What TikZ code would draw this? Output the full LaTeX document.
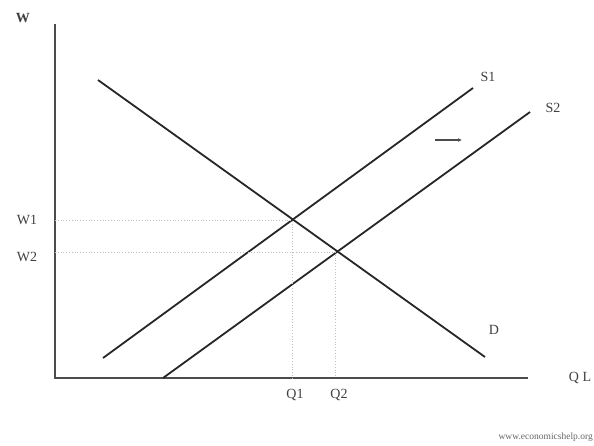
\documentclass[tikz,border=0pt]{standalone}
\usepackage{fontspec}
\setmainfont{Liberation Serif}
\usetikzlibrary{arrows.meta}
\begin{document}
\begin{tikzpicture}[x=1pt,y=-1pt,
  axis/.style={line width=2.6pt,draw=black!70},
  curve/.style={line width=1.8pt,draw=black!85},
  guide/.style={line width=0.8pt,draw=black!25,dotted},
  lab/.style={font=\fontsize{14}{16}\selectfont,text=black!75,inner sep=0pt},
  web/.style={font=\fontsize{9.5}{11}\selectfont,text=black!60,inner sep=0pt}]
\useasboundingbox (0,0) rectangle (594,445);
% axes
\coordinate (O) at (55,378);
\coordinate (Ytop) at (55,24);
\coordinate (Xend) at (528,378);
\draw[axis] (Ytop) -- (O) -- (Xend);
% curves
\coordinate (D0) at (98,80);
\coordinate (D1) at (485,357);
\coordinate (S1a) at (103,358);
\coordinate (S1b) at (473,88);
\coordinate (S2a) at (163,378);
\coordinate (S2b) at (530,112);
\draw[curve] (D0) -- (D1);
\draw[curve] (S1a) -- (S1b);
\draw[curve] (S2a) -- (S2b);
% equilibria
\coordinate (E1) at (292,220);
\coordinate (E2) at (335,252);
\coordinate (W1y) at (55,220);
\coordinate (W2y) at (55,252);
\coordinate (Q1x) at (292,378);
\coordinate (Q2x) at (335,378);
\draw[guide] (W1y) -- (E1) -- (Q1x);
\draw[guide] (W2y) -- (E2) -- (Q2x);
% shift arrow
\coordinate (A0) at (435,140);
\coordinate (A1) at (462,140);
\draw[line width=1.5pt,draw=black!70,-{Latex[length=4pt,width=4pt]}] (A0) -- (A1);
% labels
\node[lab,font=\fontsize{14}{16}\selectfont\bfseries] (W) at (23,18) {W};
\node[lab] (W1) at (27,220) {W1};
\node[lab] (W2) at (27,257) {W2};
\node[lab] (Q1) at (295,395) {Q1};
\node[lab] (Q2) at (339,395) {Q2};
\node[lab] (QL) at (580,378) {Q L};
\node[lab] (S1) at (488,77) {S1};
\node[lab] (S2) at (553,108) {S2};
\node[lab] (Dl) at (494,330) {D};
\node[web,anchor=east] (web) at (593,437) {www.economicshelp.org};
\end{tikzpicture}
\end{document}
